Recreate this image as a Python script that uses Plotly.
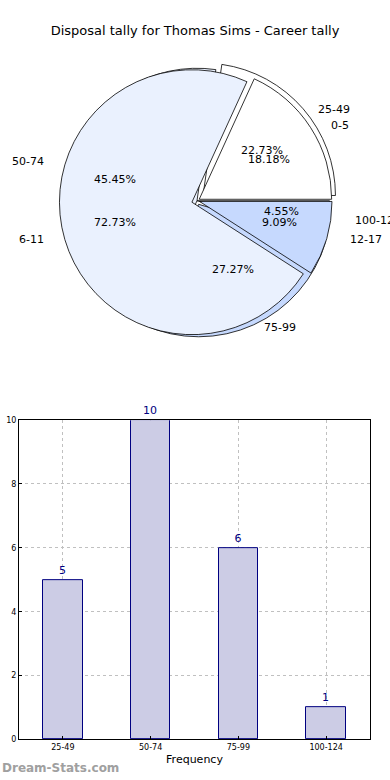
import math
import plotly.graph_objects as go

# ---- data ----
title_text = "Disposal tally for Thomas Sims - Career tally"
pie1_labels = ["25-49", "50-74", "75-99", "100-124"]
pie1_values = [5, 10, 6, 1]
pie2_labels = ["0-5", "6-11", "12-17"]
pie2_values = [4, 16, 2]
bar_categories = ["25-49", "50-74", "75-99", "100-124"]
bar_values = [5, 10, 6, 1]
y_ticks = [0, 2, 4, 6, 8, 10]

W, H = 390, 780
FONT = "DejaVu Sans"

# ---- pie geometry (pixels) ----
cx_px, cy_px = 197, 199
r_px = 134
rx_px, ry_px = 143, 128  # label ellipse (reference pie is slightly oval)

pie1_colors = ["#ffffff", "#eaf1fe", "#c6d9fe", "#ffffff"]
pie2_colors = ["#ffffff", "#eaf1fe", "#c6d9fe"]
pie1_pull = [0.06, 0, 0.03, 0]
pie2_pull = [0.02, 0.04, 0.02]

fig = go.Figure()


def pie_domain(maxpull):
    rr = r_px * (1 + maxpull)
    x0 = (cx_px - rr) / W
    x1 = (cx_px + rr) / W
    y0 = (H - cy_px - rr) / H
    y1 = (H - cy_px + rr) / H
    return dict(x=[x0, x1], y=[y0, y1])


for labels, values, colors, pull in [
    (pie1_labels, pie1_values, pie1_colors, pie1_pull),
    (pie2_labels, pie2_values, pie2_colors, pie2_pull),
]:
    # plotly's counterclockwise mode ends the first slice at `rotation`;
    # shift so that the first slice starts at 3 o'clock like the reference
    first_deg = 360.0 * values[0] / sum(values)
    fig.add_trace(go.Pie(
        labels=labels, values=values, sort=False, direction="counterclockwise",
        rotation=90 - first_deg, pull=pull, textinfo="none",
        hoverinfo="label+percent",
        marker=dict(colors=colors, line=dict(color="#000000", width=0.8)),
        domain=pie_domain(max(pull)), showlegend=False,
    ))

annotations = []


def add_pie_text(labels, values):
    total = sum(values)
    start = 0.0
    for lab, v in zip(labels, values):
        frac = v / total
        mid = (start + frac / 2) * 2 * math.pi
        start += frac
        c, s = math.cos(mid), math.sin(mid)
        lx = (cx_px + 1.1 * rx_px * c) / W
        ly = (H - cy_px + 1.1 * ry_px * s) / H
        annotations.append(dict(
            x=lx, y=ly, xref="paper", yref="paper", text=lab, showarrow=False,
            xanchor="left" if c > 0 else "right", yanchor="middle",
            font=dict(family=FONT, size=11, color="#000000")))
        px = (cx_px + 0.6 * rx_px * c) / W
        py = (H - cy_px + 0.6 * ry_px * s) / H
        annotations.append(dict(
            x=px, y=py, xref="paper", yref="paper",
            text="%.2f%%" % (100 * frac), showarrow=False,
            xanchor="center", yanchor="middle",
            font=dict(family=FONT, size=11, color="#000000")))


add_pie_text(pie1_labels, pie1_values)
add_pie_text(pie2_labels, pie2_values)

# ---- bar chart ----
fig.add_trace(go.Bar(
    x=bar_categories, y=bar_values, width=0.45,
    marker=dict(color="rgb(204,204,229)", line=dict(color="#000080", width=1)),
    text=[str(v) for v in bar_values], textposition="outside",
    textfont=dict(family=FONT, size=11, color="#000080"),
    cliponaxis=False, showlegend=False, xaxis="x", yaxis="y",
))

annotations.append(dict(
    x=0, y=7 / H, xref="paper", yref="paper", text="<b>Dream-Stats.com</b>",
    showarrow=False, xanchor="left", yanchor="middle",
    font=dict(family=FONT, size=12, color="#a0a0a0")))

fig.update_layout(
    width=W, height=H,
    margin=dict(l=0, r=0, t=0, b=0),
    paper_bgcolor="#ffffff", plot_bgcolor="#ffffff",
    title=dict(text=title_text, x=0.5, xanchor="center", y=1 - 30 / H,
               yanchor="middle", font=dict(family=FONT, size=13, color="#000000")),
    font=dict(family=FONT, color="#000000"),
    annotations=annotations,
    xaxis=dict(
        domain=[19 / W, 370 / W], anchor="y", range=[-0.5, 3.5],
        showline=True, mirror=True, linecolor="#000000", linewidth=1,
        showgrid=True, gridcolor="#c0c0c0", griddash="dot", gridwidth=1,
        ticks="inside", ticklen=3, tickcolor="#000000",
        tickfont=dict(family=FONT, size=8, color="#000000"),
        title=dict(text="Frequency", font=dict(family=FONT, size=11, color="#000000"),
                   standoff=4),
        zeroline=False,
    ),
    yaxis=dict(
        domain=[36 / H, 359 / H], anchor="x", range=[0, 10],
        tickvals=y_ticks, ticktext=[str(t) for t in y_ticks],
        showline=True, mirror=True, linecolor="#000000", linewidth=1,
        showgrid=True, gridcolor="#c0c0c0", griddash="dot", gridwidth=1,
        ticks="inside", ticklen=3, tickcolor="#000000",
        tickfont=dict(family=FONT, size=8, color="#000000"),
        zeroline=False,
    ),
    bargap=0,
)

fig.write_html(
    "out.html",
    config={"displayModeBar": False},
    post_script="document.body.style.margin='0';document.body.style.overflow='hidden';",
)
